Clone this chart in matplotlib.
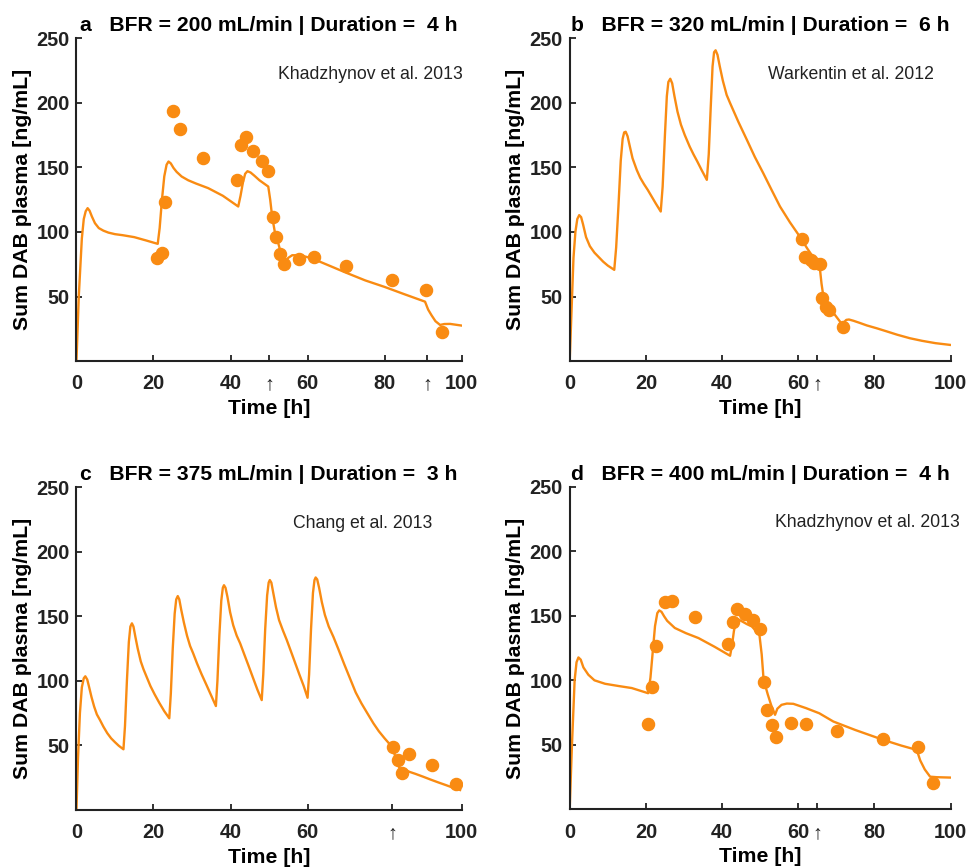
import matplotlib
matplotlib.use("Agg")
import matplotlib.pyplot as plt

plt.rcParams['font.family'] = ['Liberation Sans', 'DejaVu Sans']

ORANGE = '#F98B12'

# ---------------- Panel a ----------------
a_t = [0, 0.6, 1.4, 1.9, 2.4, 2.9, 3.4, 4.0, 4.8, 5.8, 7, 8.3, 10, 12, 15, 18, 21.1, 21.6, 22.2,
       22.8, 23.4, 23.9, 24.5, 25.2, 26, 27.3, 29, 31, 34.2, 38, 42, 42.6, 43.2, 43.8, 44.4, 45.2,
       46.2, 47.5, 49.8, 50.3, 50.8, 51.5, 52.4, 53.2, 53.8, 54.3, 55, 56, 58, 60, 62, 66, 70, 75,
       80, 85, 90.5, 91.3, 92.2, 93.2, 94.4, 95.5, 97, 100]
a_c = [0, 50, 95, 110, 116, 118.4, 116.5, 112, 106.8, 103, 101, 99.5, 98.3, 97.5, 96, 93.5, 90.8,
       103, 125, 143, 152, 154.5, 153, 149.5, 146.5, 142.9, 140, 137.5, 133.9, 128, 119.7, 128,
       138, 145, 147, 146, 143.5, 140, 135.1, 125, 112, 100, 91.3, 82, 77.5, 77, 80, 82, 82, 80.5,
       78.5, 73.5, 68.5, 62.5, 57.5, 52, 46.1, 40, 35.5, 31, 28.1, 28.8, 28.9, 27.6]
a_obs_t = [20.8, 22.1, 23.0, 25.0, 26.9, 32.8, 41.8, 42.6, 43.9, 45.9, 48.1, 49.8, 50.9, 51.8,
           52.9, 53.9, 57.9, 61.8, 70.0, 82.0, 90.8, 94.9]
a_obs_c = [80.2, 83.6, 123.1, 193.7, 179.8, 157.1, 140.1, 166.9, 173.8, 163, 155, 147.3, 111.9,
           96, 82.8, 75.1, 78.9, 81, 74, 62.7, 55, 22.4]
a_ticks = [0, 20, 40, 50, 60, 80, 91, 100]
a_labels = ['0', '20', '40', '↑', '60', '80', '↑', '100']

# ---------------- Panel b ----------------
b_t = [0, 0.5, 1.0, 1.5, 2.0, 2.5, 3.0, 3.5, 4.3, 5.3, 6.5, 8.8, 10, 11.7, 12.2, 12.8, 13.4,
       13.9, 14.3, 14.7, 15.2, 15.8, 16.5, 17.6, 18.5, 19.5, 20.5, 21.5, 22.6, 23.9, 24.4, 25,
       25.5, 25.9, 26.4, 26.9, 27.5, 28.3, 29.2, 30.2, 31.5, 32.5, 33.5, 34.7, 36, 36.5, 37,
       37.5, 37.9, 38.3, 38.8, 39.4, 40.2, 41.2, 42.1, 44.3, 46.5, 48.6, 50.8, 53, 55.2, 57.8,
       60.4, 62.4, 64.4, 65.2, 65.7, 66.1, 66.6, 67.3, 68.3, 69.2, 70.1, 71, 71.7, 72.1, 72.6,
       73.3, 74.5, 76, 78, 80.6, 83, 86, 89.3, 92.5, 96, 100]
b_c = [0, 40, 80, 100, 110, 113, 111.5, 106, 96, 89, 84, 77, 74, 70.7, 88, 120, 155, 172, 177,
       177.5, 174, 166, 157, 148, 142, 137, 132.5, 127.5, 122, 115.8, 135, 175, 205, 216, 218.5,
       215, 205, 193, 183, 175, 166, 160, 154.5, 147.5, 140.3, 160, 195, 228, 239, 240.5, 237,
       228, 217, 206, 199.7, 185, 171.3, 158, 145.5, 132.5, 119.7, 107.5, 96.4, 87, 78.4, 75,
       71, 60, 50, 46, 41.5, 37.5, 34, 30.5, 28.5, 30.5, 32, 32.3, 31.3, 29.8, 27.7, 25.5,
       23.3, 20.5, 17.8, 15.8, 14, 12.6]
b_obs_t = [60.9, 61.8, 63.3, 64.2, 65.7, 66.3, 67.2, 68.1, 71.7]
b_obs_c = [94.7, 81, 78.4, 75.8, 75, 48.8, 42.3, 39.7, 26.8]
b_ticks = [0, 20, 40, 60, 65, 80, 100]
b_labels = ['0', '20', '40', '60', '↑', '80', '100']

# ---------------- Panel c ----------------
c_t = [0, 0.4, 0.9, 1.4, 1.9, 2.3, 2.8, 3.3, 3.9, 4.6, 5.3, 6.1, 7, 8, 9, 10, 11, 12.2,
       12.6, 13.1, 13.6, 14, 14.4, 14.8, 15.3, 15.9, 16.7, 17.4, 18.2, 19.2, 20.3, 21.5, 22.8,
       24.1, 24.5, 25, 25.5, 25.9, 26.3, 26.7, 27.2, 27.9, 28.7, 29.5, 30.3, 31.3, 32.5, 33.8,
       35, 36.2, 36.6, 37.1, 37.6, 38, 38.3, 38.7, 39.2, 39.9, 40.7, 41.6, 42.5, 43.5, 44.7,
       46, 47, 48.1, 48.5, 49, 49.5, 49.9, 50.2, 50.6, 51.1, 51.8, 52.6, 53.6, 54.6, 55.6,
       56.7, 57.8, 59, 60, 60.4, 60.9, 61.4, 61.8, 62.1, 62.5, 63, 63.7, 64.5, 65.5, 66.7,
       68, 69.5, 71, 72.5, 74, 75.5, 77.1, 78.5, 80, 81.9, 82.6, 83.3, 84, 84.5, 85.1, 85.8,
       86.5, 88, 90, 92, 94, 96, 98, 99.6]
c_c = [0, 40, 75, 95, 102, 103.5, 101, 95, 87.5, 80, 74, 69.7, 64.5, 59.5, 55.5, 52.5, 49.7, 47,
       65, 100, 130, 142, 144.5, 142, 134, 125, 115, 109, 103.2, 96, 89.5, 83, 76.5,
       71, 90, 125, 152, 163, 165.6, 163, 155, 145, 135, 127, 121.3, 113.5, 105, 96.5,
       88.5, 80.5, 100, 135, 162, 172, 174, 172, 165, 153, 143, 135, 129, 121, 111.5,
       101, 93, 85.1, 105, 140, 166, 176, 178, 176, 168, 157, 147, 139, 131.6, 123.5,
       114.5, 105.5, 96, 86.9, 105, 140, 168, 178, 180, 178.5, 172, 161, 151, 142, 134.1,
       124.5, 113, 102, 91, 82.5, 75, 67.1, 61, 55.5, 49, 43, 36.5, 31.5, 29.6, 30.5, 30.5,
       29.5, 28, 25.8, 23.5, 21.3, 19.2, 17, 15.5]
c_obs_t = [82.1, 83.4, 84.5, 86.4, 92.4, 98.5]
c_obs_c = [49, 38.7, 28.9, 43.1, 34.8, 20.1]
c_ticks = [0, 20, 40, 60, 82, 100]
c_labels = ['0', '20', '40', '60', '↑', '100']

# ---------------- Panel d ----------------
d_t = [0, 0.6, 1.3, 1.8, 2.3, 2.9, 3.6, 4.9, 6.5, 9.3, 13, 16.3, 20.6, 21.2, 21.8, 22.4, 23,
       23.5, 24.1, 24.8, 25.6, 27.6, 30.5, 33.8, 38, 42.1, 42.6, 43.1, 43.6, 44.1, 45, 46.5,
       47.8, 49.8, 50.4, 50.9, 52, 53, 53.9, 54.5, 55.6, 57, 58.7, 62, 65.5, 69.2, 75, 82.3,
       87, 91.1, 92, 93.2, 94.6, 96.4, 100]
d_c = [0, 50, 100, 114, 117.7, 116, 110, 104.3, 100, 97.3, 95.5, 94, 90, 102, 122, 142, 152,
       154.1, 153, 149.5, 146, 140.5, 136.5, 132.7, 126, 119, 127, 138, 145.5, 147.4, 146,
       143.5, 141.7, 135.3, 120, 100.4, 89, 79.7, 73.3, 78, 81, 82, 81.8, 78.5, 74.5, 68.1,
       61.5, 53.9, 49.5, 46.1, 38, 31, 25.4, 25, 24.7]
d_obs_t = [20.6, 21.7, 22.7, 25.0, 26.8, 32.9, 41.6, 42.9, 44.0, 46.1, 48.0, 49.9, 50.9, 51.9,
           53.0, 54.1, 58.0, 62.0, 70.2, 82.3, 91.3, 95.4]
d_obs_c = [66, 95.2, 126.2, 160.9, 161.6, 149, 128.3, 145.1, 155.2, 151.6, 146.9, 139.7, 98.3,
           77.1, 65.5, 56.4, 66.8, 66.3, 61.1, 54.9, 48.7, 20.8]
d_ticks = [0, 20, 40, 60, 65, 80, 100]
d_labels = ['0', '20', '40', '60', '↑', '80', '100']

titles = ['a   BFR = 200 mL/min | Duration =  4 h',
          'b   BFR = 320 mL/min | Duration =  6 h',
          'c   BFR = 375 mL/min | Duration =  3 h',
          'd   BFR = 400 mL/min | Duration =  4 h']
sources = ['Khadzhynov et al. 2013', 'Warkentin et al. 2012',
           'Chang et al. 2013', 'Khadzhynov et al. 2013']
source_x = [52.3, 52.1, 56.2, 53.9]
yticks = [50, 100, 150, 200, 250]

panels = [
    (a_t, a_c, a_obs_t, a_obs_c, a_ticks, a_labels),
    (b_t, b_c, b_obs_t, b_obs_c, b_ticks, b_labels),
    (c_t, c_c, c_obs_t, c_obs_c, c_ticks, c_labels),
    (d_t, d_c, d_obs_t, d_obs_c, d_ticks, d_labels),
]

positions = [
    [0.0789, 0.5838, 0.3975, 0.3724],
    [0.5879, 0.5838, 0.3932, 0.3724],
    [0.0789, 0.0668, 0.3975, 0.3721],
    [0.5879, 0.0674, 0.3932, 0.3721],
]

fig = plt.figure(figsize=(9.69, 8.68), dpi=100)

for i, (t, c, ot, oc, xt, xl) in enumerate(panels):
    ax = fig.add_axes(positions[i])
    ax.plot(t, c, color=ORANGE, lw=1.7, zorder=2, solid_joinstyle='round')
    ax.plot(ot, oc, 'o', color=ORANGE, ms=8.7, mec=ORANGE, zorder=3)
    ax.set_xlim(0, 100)
    ax.set_ylim(0, 250)
    ax.set_yticks(yticks)
    ax.set_yticklabels([str(v) for v in yticks], fontweight='bold', fontsize=14.3)
    ax.set_xticks(xt)
    ax.set_xticklabels(xl, fontsize=14.3)
    for lab in ax.get_xticklabels():
        if lab.get_text() == '↑':
            lab.set_fontweight('normal')
        else:
            lab.set_fontweight('bold')
    ax.spines['top'].set_visible(False)
    ax.spines['right'].set_visible(False)
    for s in ('left', 'bottom'):
        ax.spines[s].set_linewidth(1.5)
        ax.spines[s].set_color('#222222')
    ax.tick_params(direction='in', length=4, width=1.3, colors='#222222')
    ax.tick_params(axis='x', pad=9.5)
    ax.tick_params(axis='y', pad=5)
    ax.set_xlabel('Time [h]', fontsize=15.3, fontweight='bold', labelpad=4)
    ax.set_ylabel('Sum DAB plasma [ng/mL]', fontsize=15.3, fontweight='bold', labelpad=3)
    ax.set_title(titles[i], fontsize=15.2, fontweight='bold', pad=5)
    ax.text(source_x[i], 222, sources[i], fontsize=12.7, va='center', ha='left',
            color='#222222')

fig.savefig('out.png', dpi=100)
